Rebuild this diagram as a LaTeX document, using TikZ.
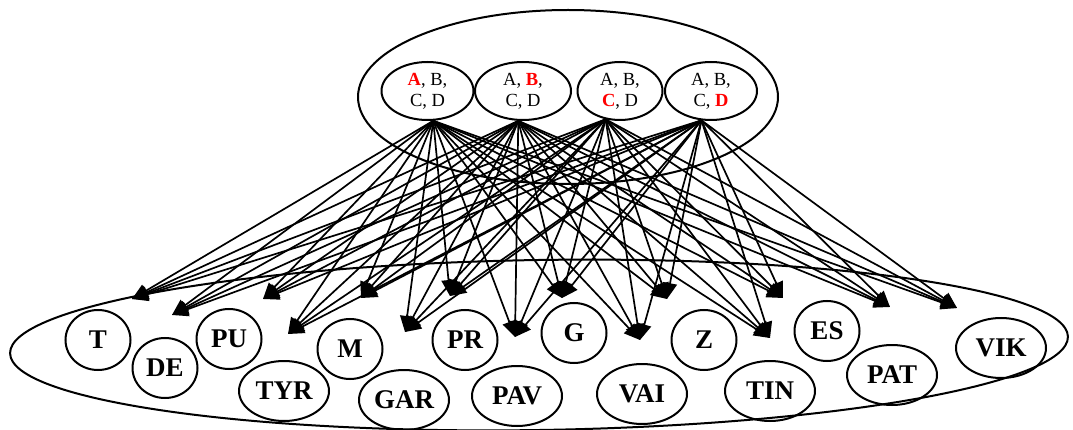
\documentclass[tikz,border=0pt]{standalone}
\usepackage{fontspec}
\setmainfont{Liberation Serif}
\usetikzlibrary{arrows.meta,shapes.geometric}
\definecolor{keyred}{RGB}{255,0,0}
\tikzset{
  grp/.style={draw,ellipse,line width=2pt,inner sep=0pt},
  opt/.style={grp,align=center,minimum height=58pt,font=\fontsize{18.5}{21}\selectfont},
  site/.style={grp,minimum width=65pt,minimum height=60pt,font=\fontsize{27}{31}\selectfont\bfseries},
  wide/.style={site,minimum width=90pt},
  arr/.style={-{Triangle[length=16pt,width=14pt]},line width=1.7pt},
}
\newcommand{\hl}[1]{\textcolor{keyred}{\textbf{#1}}}

\begin{document}
\begin{tikzpicture}[x=1pt,y=-1pt]
\useasboundingbox (0,0) rectangle (1073,430);
\node[grp,minimum width=420pt,minimum height=174pt] (upper) at (568,97) {};
\node[opt,minimum width=92pt] (optA) at (427.5,91) {\hl{A}, B,\\ C, D};
\node[opt,minimum width=96pt] (optB) at (523,91) {A, \hl{B},\\ C, D};
\node[opt,minimum width=85pt] (optC) at (620,91) {A, B,\\ \hl{C}, D};
\node[opt,minimum width=92pt] (optD) at (711,91) {A, B,\\ C, \hl{D}};
\node[grp,minimum width=1058pt,minimum height=170pt,rotate=0.9] (lower) at (539,345) {};
\node[site] (T) at (98,340) {T};
\node[site] (DE) at (165,368) {DE};
\node[site] (PU) at (229,339) {PU};
\node[wide] (TYR) at (284,391) {TYR};
\node[site] (M) at (350,349) {M};
\node[wide] (GAR) at (404,400) {GAR};
\node[site] (PR) at (465,340) {PR};
\node[wide] (PAV) at (517,396) {PAV};
\node[site] (G) at (574,333) {G};
\node[wide] (VAI) at (642,394) {VAI};
\node[site] (Z) at (704,340) {Z};
\node[wide] (TIN) at (770,391) {TIN};
\node[site] (ES) at (827,331) {ES};
\node[wide] (PAT) at (892,375) {PAT};
\node[wide] (VIK) at (1001,348) {VIK};
\coordinate (fromA) at (optA.-79);
\coordinate (fromB) at (optB.-99);
\coordinate (fromC) at (optC.-117);
\coordinate (fromD) at (optD.-108);
\coordinate (tT) at (132,299);
\coordinate (tDE) at (172,315);
\coordinate (tPU) at (263,299);
\coordinate (tTYR) at (288,334);
\coordinate (tM) at (361,298);
\coordinate (tGAR) at (405,332);
\coordinate (tPR) at (450,296);
\coordinate (tPAV) at (515,337);
\coordinate (tG) at (562,298);
\coordinate (tVAI) at (640,340);
\coordinate (tZ) at (667,299);
\coordinate (tTIN) at (770,338);
\coordinate (tES) at (783,298);
\coordinate (tPAT) at (890,307);
\coordinate (tVIK) at (957,308);
\foreach \s in {A,B,C,D}
  \foreach \t in {T,DE,PU,TYR,M,GAR,PR,PAV,G,VAI,Z,TIN,ES,PAT,VIK}
    \draw[arr] (from\s) -- (t\t);
\end{tikzpicture}
\end{document}
